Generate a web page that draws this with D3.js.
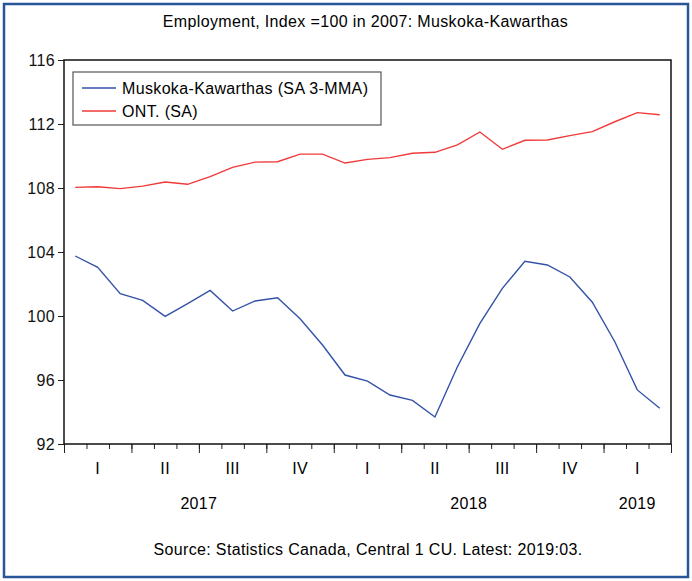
<!DOCTYPE html>
<html>
<head>
<meta charset="utf-8">
<script src="https://cdn.jsdelivr.net/npm/d3@7"></script>
<style>
  body { margin: 0; background: #fff; }
  svg text { font-family: "Liberation Sans", Arial, sans-serif; letter-spacing: 0.35px; }
</style>
</head>
<body>
<div id="plot"></div>
<script>
// monthly index values, Jan 2017 .. Mar 2019
const months = d3.range(27).map((i) => new Date(2017, i, 1));
const muskoka = [103.75, 103.04, 101.39, 100.98, 99.98, 100.77, 101.6, 100.31, 100.94, 101.14, 99.83, 98.19,
  96.31, 95.93, 95.06, 94.73, 93.69, 96.83, 99.54, 101.73, 103.42, 103.19, 102.44, 100.86, 98.39, 95.38, 94.23];
const ontario = [108.04, 108.08, 107.96, 108.12, 108.37, 108.23, 108.71, 109.29, 109.62, 109.64, 110.12, 110.12,
  109.56, 109.79, 109.9, 110.17, 110.23, 110.69, 111.5, 110.42, 110.98, 111.0, 111.27, 111.52, 112.14, 112.71, 112.58];
const yTicks = [92, 96, 100, 104, 108, 112, 116];
const quarterLabels = ['I', 'II', 'III', 'IV', 'I', 'II', 'III', 'IV', 'I'];
const years = [2017, 2018, 2019];

const W = 692, H = 581;
const margin = { top: 60, right: 21, bottom: 137, left: 64 };

const svg = d3.select('#plot').append('svg').attr('width', W).attr('height', H);

// outer border
svg.append('rect')
  .attr('x', 4).attr('y', 4).attr('width', W - 8).attr('height', H - 8)
  .attr('fill', 'none').attr('stroke', '#2a5699').attr('stroke-width', 2.5);

const x = d3.scaleLinear().domain([0, months.length]).range([margin.left, W - margin.right]);
const y = d3.scaleLinear().domain([92, 116]).range([H - margin.bottom, margin.top]);

svg.append('text')
  .attr('x', (margin.left + W - margin.right) / 2 - 2)
  .attr('y', 27)
  .attr('text-anchor', 'middle')
  .style('font-size', '16px')
  .text('Employment, Index =100 in 2007: Muskoka-Kawarthas');

// y axis
const yAxis = svg.append('g')
  .attr('transform', `translate(${margin.left},0)`)
  .call(d3.axisLeft(y).tickValues(yTicks).tickSize(6).tickPadding(3).tickSizeOuter(0));
yAxis.select('.domain').remove();
yAxis.selectAll('text').style('font-size', '16px').style('font-family', null).attr('fill', '#111');
yAxis.selectAll('line').attr('stroke', '#222');

// x axis: monthly minor ticks, quarterly major ticks
const bottom = H - margin.bottom;
const xMinor = svg.append('g')
  .attr('transform', `translate(0,${bottom})`)
  .call(d3.axisBottom(x).tickValues(d3.range(months.length + 1)).tickSize(5).tickFormat('').tickSizeOuter(0));
xMinor.select('.domain').remove();
xMinor.selectAll('line').attr('stroke', '#222');

const xMajor = svg.append('g')
  .attr('transform', `translate(0,${bottom})`)
  .call(d3.axisBottom(x).tickValues(d3.range(0, months.length + 1, 3)).tickSize(9).tickFormat('').tickSizeOuter(0));
xMajor.select('.domain').remove();
xMajor.selectAll('line').attr('stroke', '#222');

svg.selectAll('.qlabel')
  .data(quarterLabels)
  .enter()
  .append('text')
  .attr('class', 'qlabel')
  .attr('x', (d, i) => x(i * 3 + 1.5))
  .attr('y', 474)
  .attr('text-anchor', 'middle')
  .style('font-size', '16px')
  .text((d) => d);

svg.selectAll('.ylabel')
  .data(years)
  .enter()
  .append('text')
  .attr('class', 'ylabel')
  .attr('x', (d) => {
    const idx = months.map((m, i) => i).filter((i) => months[i].getFullYear() === d);
    return x((d3.min(idx) + d3.max(idx) + 1) / 2);
  })
  .attr('y', 509)
  .attr('text-anchor', 'middle')
  .style('font-size', '16px')
  .text((d) => d);

// plot frame
svg.append('rect')
  .attr('x', x(0)).attr('y', y(116))
  .attr('width', x(months.length) - x(0)).attr('height', y(92) - y(116))
  .attr('fill', 'none').attr('stroke', '#111').attr('stroke-width', 1.5);

const line = d3.line().x((d, i) => x(i + 0.5)).y((d) => y(d));

svg.append('path').datum(ontario)
  .attr('d', line).attr('fill', 'none').attr('stroke', '#f03a3a').attr('stroke-width', 1.4);
svg.append('path').datum(muskoka)
  .attr('d', line).attr('fill', 'none').attr('stroke', '#3452a8').attr('stroke-width', 1.4);

// legend
const legend = svg.append('g');
legend.append('rect')
  .attr('x', 73).attr('y', 72).attr('width', 308).attr('height', 53)
  .attr('fill', '#fff').attr('stroke', '#555').attr('stroke-width', 1.2);
const legendItems = [
  { label: 'Muskoka-Kawarthas (SA 3-MMA)', color: '#3452a8' },
  { label: 'ONT. (SA)', color: '#f03a3a' }
];
legendItems.forEach((d, i) => {
  const ly = 88 + i * 23;
  legend.append('line').attr('x1', 82).attr('x2', 116).attr('y1', ly).attr('y2', ly)
    .attr('stroke', d.color).attr('stroke-width', 1.4);
  legend.append('text').attr('x', 122).attr('y', ly + 6).style('font-size', '16px').text(d.label);
});

svg.append('text')
  .attr('x', 368)
  .attr('y', 555)
  .attr('text-anchor', 'middle')
  .style('font-size', '16px')
  .text('Source: Statistics Canada, Central 1 CU. Latest: 2019:03.');
</script>
</body>
</html>
